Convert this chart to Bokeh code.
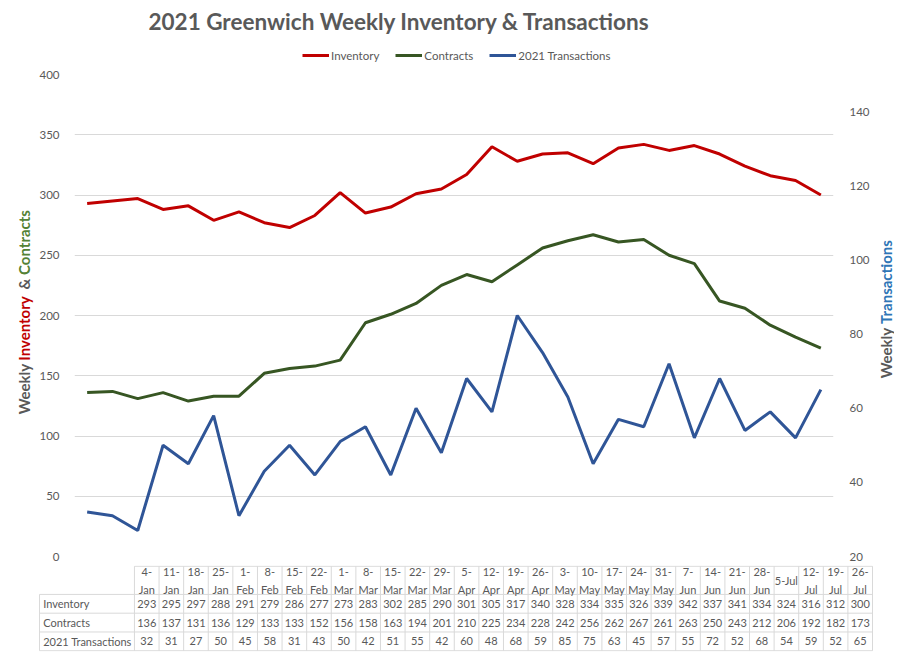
from math import pi
from bokeh.plotting import figure
from bokeh.models import (Range1d, LinearAxis, FixedTicker, Legend, LegendItem,
                          ColumnDataSource)
from bokeh.layouts import column, row
from bokeh.core.properties import value
from bokeh.embed import file_html
from bokeh.resources import INLINE

# ---------------- data ----------------
categories = ["4-Jan", "11-Jan", "18-Jan", "25-Jan", "1-Feb", "8-Feb", "15-Feb", "22-Feb",
              "1-Mar", "8-Mar", "15-Mar", "22-Mar", "29-Mar", "5-Apr", "12-Apr", "19-Apr",
              "26-Apr", "3-May", "10-May", "17-May", "24-May", "31-May", "7-Jun", "14-Jun",
              "21-Jun", "28-Jun", "5-Jul", "12-Jul", "19-Jul", "26-Jul"]
header_labels = ["4-\nJan", "11-\nJan", "18-\nJan", "25-\nJan", "1-\nFeb", "8-\nFeb", "15-\nFeb",
                 "22-\nFeb", "1-\nMar", "8-\nMar", "15-\nMar", "22-\nMar", "29-\nMar", "5-\nApr",
                 "12-\nApr", "19-\nApr", "26-\nApr", "3-\nMay", "10-\nMay", "17-\nMay", "24-\nMay",
                 "31-\nMay", "7-\nJun", "14-\nJun", "21-\nJun", "28-\nJun", "5-Jul", "12-\nJul",
                 "19-\nJul", "26-\nJul"]
inventory = [293, 295, 297, 288, 291, 279, 286, 277, 273, 283, 302, 285, 290, 301, 305,
             317, 340, 328, 334, 335, 326, 339, 342, 337, 341, 334, 324, 316, 312, 300]
contracts = [136, 137, 131, 136, 129, 133, 133, 152, 156, 158, 163, 194, 201, 210, 225,
             234, 228, 242, 256, 262, 267, 261, 263, 250, 243, 212, 206, 192, 182, 173]
transactions = [32, 31, 27, 50, 45, 58, 31, 43, 50, 42, 51, 55, 42, 60, 48,
                68, 59, 85, 75, 63, 45, 57, 55, 72, 52, 68, 54, 59, 52, 65]
series_names = ["Inventory", "Contracts", "2021 Transactions"]
title_text = "2021 Greenwich Weekly Inventory & Transactions"
left_title = [("Weekly", "gray"), ("Inventory", "red"), ("&", "gray"), ("Contracts", "green")]
right_title = [("Weekly", "gray"), ("Transactions", "blue")]
left_ticks = [0, 50, 100, 150, 200, 250, 300, 350, 400]
right_ticks = [20, 40, 60, 80, 100, 120, 140]

# ---------------- styles ----------------
FONT = "Lato"
GRAY = "#595959"
GRID = "#D9D9D9"
RED = "#C00000"
GREEN = "#375623"
BLUE = "#2F5597"
TITLE_COLORS = {"gray": GRAY, "red": RED, "green": "#548235", "blue": "#2E75B6"}

n = len(categories)
xs = list(range(n))

W = 894
TOP_H = 64
MID_H = 498
TAB_H = 90
LEFT_W = 36
RIGHT_W = 22
MAIN_W = W - LEFT_W - RIGHT_W


def bare(fig):
    fig.outline_line_color = None
    fig.xgrid.grid_line_color = None
    fig.ygrid.grid_line_color = None
    return fig


# ---------------- top strip: title + legend ----------------
top = bare(figure(width=W, height=TOP_H, output_backend="svg", toolbar_location=None,
                  x_range=Range1d(0, W), y_range=Range1d(TOP_H, 0),
                  x_axis_location=None, y_axis_location=None, frame_align=False,
                  min_border=0, min_border_left=0, min_border_right=0,
                  min_border_top=0, min_border_bottom=0))
top.text(x=[399], y=[21], text=[title_text], text_align="center", text_baseline="middle",
         text_font=value(FONT), text_font_size="22.5px", text_font_style="bold", text_color=GRAY)
# legend swatches: the series drawn far outside this strip's range, only their legend shows
d_inv = top.line(xs, [-1000 - v for v in inventory], line_color=RED, line_width=3)
d_con = top.line(xs, [-1000 - v for v in contracts], line_color=GREEN, line_width=3)
d_tr = top.line(xs, [-1000 - v for v in transactions], line_color=BLUE, line_width=3)
legend = Legend(items=[LegendItem(label=series_names[0], renderers=[d_inv]),
                       LegendItem(label=series_names[1], renderers=[d_con]),
                       LegendItem(label=series_names[2], renderers=[d_tr])],
                orientation="horizontal", location=(302, 2),
                glyph_width=27, glyph_height=14, label_height=14, label_standoff=2,
                spacing=16, padding=2, margin=0, border_line_color=None,
                background_fill_alpha=0,
                label_text_font=FONT, label_text_font_size="11.5px",
                label_text_color=GRAY)
top.add_layout(legend, "center")

# ---------------- main chart ----------------
p = figure(width=MAIN_W, height=MID_H, output_backend="svg", toolbar_location=None,
           x_range=Range1d(-0.5, n - 0.5), y_range=Range1d(0, 400),
           x_axis_location=None, frame_align=False,
           min_border_left=70 - LEFT_W, min_border_right=(LEFT_W + MAIN_W) - 842,
           min_border_top=74 - TOP_H, min_border_bottom=(TOP_H + MID_H) - 556)
p.outline_line_color = None
p.extra_y_ranges = {"right": Range1d(20, 150)}

ya = p.yaxis[0]
ya.ticker = FixedTicker(ticks=left_ticks)
ya.axis_line_color = None
ya.major_tick_line_color = None
ya.minor_tick_line_color = None
ya.major_label_standoff = 9
ya.major_label_text_font = FONT
ya.major_label_text_font_size = "11.5px"
ya.major_label_text_color = GRAY

ra = LinearAxis(y_range_name="right", ticker=FixedTicker(ticks=right_ticks))
ra.axis_line_color = None
ra.major_tick_line_color = None
ra.minor_tick_line_color = None
ra.major_label_standoff = 10
ra.major_label_text_font = FONT
ra.major_label_text_font_size = "11.5px"
ra.major_label_text_color = GRAY
p.add_layout(ra, "right")

p.ygrid.grid_line_color = GRID
p.ygrid.grid_line_width = 1
p.xgrid.grid_line_color = None

p.line(xs, inventory, line_color=RED, line_width=3)
p.line(xs, contracts, line_color=GREEN, line_width=3)
p.line(xs, transactions, line_color=BLUE, line_width=3, y_range_name="right")

# ---------------- side titles ----------------
left = bare(figure(width=LEFT_W, height=MID_H, output_backend="svg", toolbar_location=None,
                   x_range=Range1d(0, LEFT_W), y_range=Range1d(TOP_H + MID_H, TOP_H),
                   x_axis_location=None, y_axis_location=None, frame_align=False,
                   min_border_left=0, min_border_right=0, min_border_top=0, min_border_bottom=0))
for (txt, c), yc in zip(left_title, [388.5, 328, 283.5, 242]):
    left.text(x=[23], y=[yc], text=[txt], angle=pi / 2, text_align="center",
              text_baseline="middle", text_font=value(FONT), text_font_size="15px",
              text_font_style="bold", text_color=TITLE_COLORS[c])

right = bare(figure(width=RIGHT_W, height=MID_H, output_backend="svg", toolbar_location=None,
                    x_range=Range1d(W - RIGHT_W, W), y_range=Range1d(TOP_H + MID_H, TOP_H),
                    x_axis_location=None, y_axis_location=None, frame_align=False,
                    min_border_left=0, min_border_right=0, min_border_top=0, min_border_bottom=0))
for (txt, c), yc in zip(right_title, [352.5, 281.5]):
    right.text(x=[885], y=[yc], text=[txt], angle=pi / 2, text_align="center",
               text_baseline="middle", text_font=value(FONT), text_font_size="15px",
               text_font_style="bold", text_color=TITLE_COLORS[c])

# ---------------- data table ----------------
LABEL_W = 3.86          # width of the row-label column, in column units
HEADER_H = 1.5          # header row height, in row units
nrows = len(series_names)
ttop = nrows + HEADER_H

t = bare(figure(width=W, height=TAB_H, output_backend="svg", toolbar_location=None,
                x_range=Range1d(-LABEL_W - 0.04, n + 0.04), y_range=Range1d(-0.04, ttop + 0.04),
                x_axis_location=None, y_axis_location=None, frame_align=False,
                min_border_left=38, min_border_right=21, min_border_top=3, min_border_bottom=1))

hx0 = [-LABEL_W] * (nrows + 1) + [0]
hx1 = [n] * (nrows + 2)
hy = list(range(nrows + 1)) + [ttop]
t.segment(x0=hx0, y0=hy, x1=hx1, y1=hy, line_color=GRID, line_width=1)
vx = [-LABEL_W] + list(range(n + 1))
vy0 = [0] * (n + 2)
vy1 = [nrows] + [ttop] * (n + 1)
t.segment(x0=vx, y0=vy0, x1=vx, y1=vy1, line_color=GRID, line_width=1)

TFS = "11px"
hsrc = ColumnDataSource(dict(x=[i + 0.5 for i in xs], y=[nrows + HEADER_H / 2] * n, t=header_labels))
t.text(x="x", y="y", text="t", source=hsrc, text_align="center", text_baseline="middle",
       text_font=value(FONT), text_font_size=TFS, text_color=GRAY, text_line_height=1.35)

for k, (name, vals) in enumerate(zip(series_names, [inventory, contracts, transactions])):
    yrow = nrows - k - 0.5
    t.text(x=[-LABEL_W + 0.15], y=[yrow], text=[name], text_align="left", text_baseline="middle",
           text_font=value(FONT), text_font_size=TFS, text_color=GRAY)
    src = ColumnDataSource(dict(x=[i + 0.5 for i in xs], y=[yrow] * n, t=[str(v) for v in vals]))
    t.text(x="x", y="y", text="t", source=src, text_align="center", text_baseline="middle",
           text_font=value(FONT), text_font_size=TFS, text_color=GRAY)

layout = column(top, row(left, p, right, spacing=0), t, spacing=0)
open("out.html", "w").write(file_html(layout, INLINE))
